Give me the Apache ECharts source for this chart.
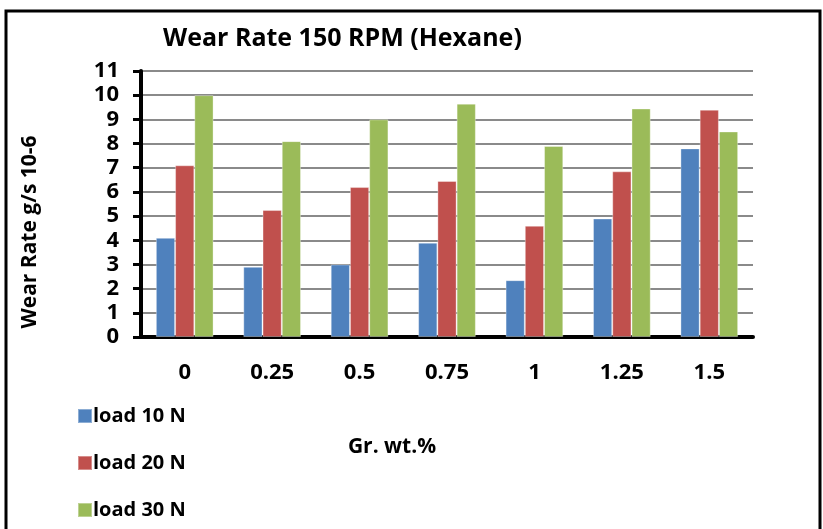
<!DOCTYPE html>
<html><head><meta charset="utf-8">
<script src="https://cdn.jsdelivr.net/npm/echarts@6/dist/echarts.min.js"></script>
<style>html,body{margin:0;padding:0;background:#fff}#c{width:823px;height:529px}</style>
</head><body><div id="c"></div>
<script>
const categories = ['0','0.25','0.5','0.75','1','1.25','1.5'];
const load10 = [4.1, 2.9, 3.0, 3.9, 2.35, 4.9, 7.8];
const load20 = [7.1, 5.25, 6.2, 6.45, 4.6, 6.85, 9.4];
const load30 = [10.0, 8.1, 9.0, 9.65, 7.9, 9.45, 8.5];
const seriesNames = ['load 10 N','load 20 N','load 30 N'];
const colors = ['#4F81BD','#C0504D','#9BBB59'];
const font = 'Open Sans, Noto Sans, sans-serif';

const chart = echarts.init(document.getElementById('c'));
chart.setOption({
  animation:false,
  title:{text:'Wear Rate 150 RPM (Hexane)', left:158, top:21,
    textStyle:{fontFamily:font, fontWeight:'bold', fontSize:25, color:'#000'}},
  grid:{left:141, right:70, top:71, bottom:192, containLabel:false},
  legend:{orient:'vertical', left:72, top:401, itemGap:27, itemWidth:14, itemHeight:14,
    icon:'rect', textStyle:{fontFamily:font, fontWeight:'bold', fontSize:20, color:'#000', padding:[0,0,0,-4]},
    data:seriesNames},
  xAxis:{type:'category', data:categories, name:'Gr. wt.%', nameLocation:'middle', nameGap:100,
    nameTextStyle:{fontFamily:font, fontWeight:'bold', fontSize:21, color:'#000', padding:[0,0,0,-110]},
    axisLine:{lineStyle:{color:'#000', width:4}}, axisTick:{show:false},
    axisLabel:{fontFamily:font, fontWeight:'bold', fontSize:22, color:'#000', margin:25}},
  yAxis:{type:'value', min:0, max:11, interval:1, name:'Wear Rate g/s 10-6', nameLocation:'middle', nameGap:100,
    nameTextStyle:{fontFamily:font, fontWeight:'bold', fontSize:21, color:'#000', padding:[0,56,0,0]},
    axisLine:{show:true, lineStyle:{color:'#000', width:4}},
    axisTick:{show:true, length:8, lineStyle:{color:'#000', width:3}},
    axisLabel:{fontFamily:font, fontWeight:'bold', fontSize:22, color:'#000', margin:22, lineHeight:22},
    splitLine:{lineStyle:{color:'#8a8a8a', width:2}}},
  graphic:[{type:'rect', shape:{x:6, y:11, width:814, height:560}, style:{fill:'none', stroke:'#000', lineWidth:3}, silent:true}],
  series:[load10, load20, load30].map((d,i)=>({
    name:seriesNames[i], type:'bar', data:d, barGap:'0%', barCategoryGap:'34%',
    itemStyle:{color:colors[i], borderColor:'rgba(255,255,255,0.35)', borderWidth:1}
  }))
});
</script></body></html>
